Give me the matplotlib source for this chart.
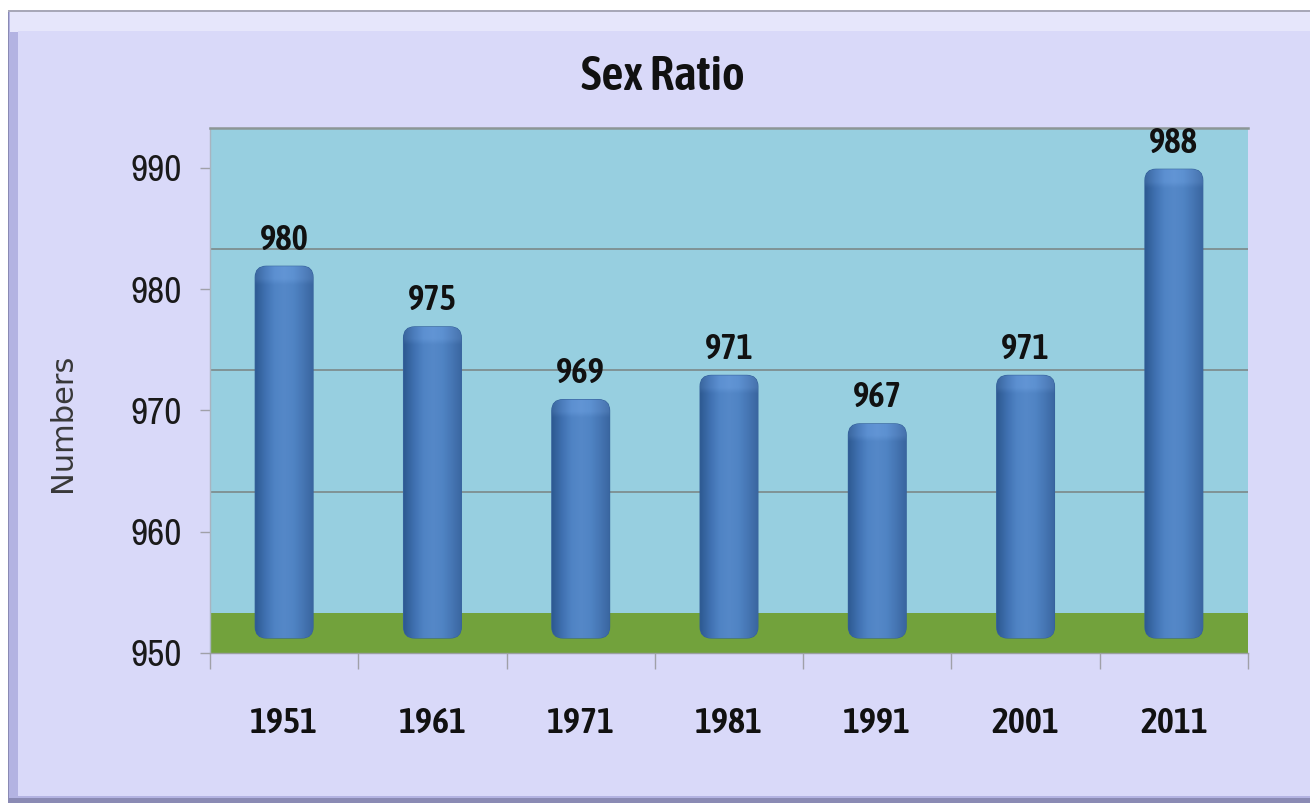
import numpy as np
import matplotlib
matplotlib.use("Agg")
import matplotlib.pyplot as plt
import matplotlib.transforms as mtransforms
import matplotlib.patheffects as pe
from matplotlib import font_manager
from matplotlib.patches import FancyBboxPatch, Rectangle
from matplotlib.colors import LinearSegmentedColormap

# ---------------- data ----------------
years = ["1951", "1961", "1971", "1981", "1991", "2001", "2011"]
sex_ratio = [980, 975, 969, 971, 967, 971, 988]
y_ticks = [950, 960, 970, 980, 990]
title_text = "Sex Ratio"
ylabel_text = "Numbers"

# ---------------- font choice ----------------
ttf = font_manager.fontManager.ttflist


def _w(f):
    wt = f.weight
    if isinstance(wt, str):
        return {"bold": 700, "heavy": 800, "black": 900, "semibold": 600,
                "demibold": 600, "extra bold": 800, "medium": 500}.get(wt.lower(), 400)
    return int(wt)


names = sorted({f.name for f in ttf})
narrow = [n for n in names if ("Narrow" in n or "Condensed" in n)]
narrow_bold = [n for n in narrow if any(f.name == n and _w(f) >= 600 for f in ttf)]
MAIN = narrow[0] if narrow else "Roboto"
BOLD = narrow_bold[0] if narrow_bold else MAIN
REAL_BOLD = bool(narrow_bold) or not narrow
bold_weights = sorted({_w(f) for f in ttf if f.name == BOLD and _w(f) >= 600})
BOLD_WEIGHT = bold_weights[0] if bold_weights else "bold"
FONT = [MAIN, "DejaVu Sans"]
FONT_B = [BOLD, "DejaVu Sans"]


def bold_kw(color="#111111", stroke=1.6):
    if REAL_BOLD:
        return dict(family=FONT_B, fontweight=BOLD_WEIGHT, color=color)
    return dict(family=FONT, color=color,
                path_effects=[pe.withStroke(linewidth=stroke, foreground=color)])


# ---------------- style ----------------
W, H, DPI = 1310, 805, 100
BG = "#D9D9F9"
WALL = "#97CFE0"
FLOOR = "#72A23C"
GRID = "#7E8E90"
WALL_SHIFT_PX = 40      # 3-D depth of back wall
BAR_SHIFT_PX = 23       # 3-D shift of bars
BAR_DROP_PX = 8         # bars sink slightly into floor
BAR_W = 0.39

fig = plt.figure(figsize=(W / DPI, H / DPI), dpi=DPI)
fig.patch.set_facecolor("white")


def frame_rect(x0, y0, x1, y1, **kw):
    r = Rectangle((x0 / W, 1 - y1 / H), (x1 - x0) / W, (y1 - y0) / H,
                  transform=fig.transFigure, zorder=-5, **kw)
    fig.patches.append(r)


# chart frame with bevel
frame_rect(8, 10, W + 2, 803, facecolor="#8A8AB4", edgecolor="none")
frame_rect(9, 11, W + 2, 798, facecolor="#B3B3E2", edgecolor="none")
frame_rect(10, 12, W + 2, 32, facecolor="#E6E6FB", edgecolor="none")
frame_rect(18, 31, W + 2, 796, facecolor=BG, edgecolor="none")
frame_rect(8, 10, W + 2, 12, facecolor="#A8A8B8", edgecolor="none")

# ---------------- axes ----------------
ax_left, ax_right, ax_top, ax_bottom = 210, 1248, 128, 653
ax = fig.add_axes([ax_left / W, 1 - ax_bottom / H,
                   (ax_right - ax_left) / W, (ax_bottom - ax_top) / H])
ax.set_zorder(1)
ax_h_px = ax_bottom - ax_top
k = (ax_h_px - WALL_SHIFT_PX) / (y_ticks[-1] - y_ticks[0])   # px per unit
base = y_ticks[0]
x = np.arange(len(years))
ax.set_facecolor(WALL)

wall_off = mtransforms.ScaledTranslation(0, WALL_SHIFT_PX / DPI, fig.dpi_scale_trans)
bar_off = mtransforms.ScaledTranslation(0, BAR_SHIFT_PX / DPI, fig.dpi_scale_trans)
blend = mtransforms.blended_transform_factory(ax.transAxes, ax.transData)

# back-wall gridlines (shifted for 3-D depth)
for v in y_ticks[1:-1]:
    ax.plot([0, 1], [v, v], color=GRID, lw=1.3, transform=blend + wall_off,
            zorder=1, solid_capstyle="butt")

# floor
ax.add_patch(Rectangle((0, 0), 1, WALL_SHIFT_PX / ax_h_px, transform=ax.transAxes,
                       facecolor=FLOOR, edgecolor="none", zorder=1.5))

# ---------------- bars ----------------
heights = np.array(sex_ratio) - base
rects = ax.bar(x, heights, bottom=base, width=BAR_W)

cmap = LinearSegmentedColormap.from_list(
    "cyl", ["#2E5A92", "#3F70B0", "#4F83C4", "#5588C8", "#5084C4",
            "#4676B4", "#3A66A0"])
bar_trans = ax.transData + bar_off
drop = BAR_DROP_PX / k
px_per_cat = (ax_right - ax_left) / len(years)
for r in rects:
    r.set_visible(False)
    x0, w = r.get_x(), r.get_width()
    y0, h = r.get_y() - drop, r.get_height() + drop
    rs = 0.075
    patch = FancyBboxPatch((x0, y0), w, h,
                           boxstyle=f"round,pad=0,rounding_size={rs}",
                           mutation_aspect=px_per_cat / k,
                           transform=bar_trans, facecolor="#4F81BD",
                           edgecolor="#34609A", lw=0.8, zorder=3)
    ax.add_patch(patch)
    # cylinder shading (soft lighter cap at the top)
    ncol, nrow = 64, 300
    prof = np.linspace(0, 1, ncol)
    img = np.tile(prof, (nrow, 1))
    bar_px = h * k
    rows_px = np.linspace(0, bar_px, nrow)  # distance from top in px
    lighten = 0.05 * np.clip((18 - rows_px) / 6, 0, 1)
    rgba = cmap(img)
    rgba[..., :3] = np.clip(rgba[..., :3] + lighten[:, None, None], 0, 1)
    im = ax.imshow(rgba, extent=[x0, x0 + w, y0, y0 + h], aspect="auto",
                   interpolation="bilinear", zorder=3.5)
    im.set_transform(bar_trans)
    im.set_clip_path(patch)

ax.set_xlim(-0.5, len(years) - 0.5)
ax.set_ylim(base, base + ax_h_px / k)

# data labels
for xi, v in zip(x, sex_ratio):
    ax.annotate(str(v), xy=(xi, v), xytext=(0, 28.5), textcoords="offset points",
                ha="center", va="baseline", fontsize=25, zorder=5,
                **bold_kw(stroke=1.4))

# ---------------- axes decoration ----------------
ax.spines["right"].set_visible(False)
ax.spines["top"].set_color("#8C9696")
ax.spines["top"].set_linewidth(1.8)
ax.spines["left"].set_color("#A8B4C0")
ax.spines["left"].set_linewidth(1.0)
ax.spines["bottom"].set_color("#9AA0A0")
ax.spines["bottom"].set_linewidth(1.0)

ax.set_yticks(y_ticks)
ax.set_yticklabels([str(t) for t in y_ticks], fontsize=27, family=FONT,
                   color="#1A1A1A")
ax.tick_params(axis="y", length=7, width=1, color="#A0A0A8", pad=13)

ax.set_xticks(np.arange(len(years) + 1) - 0.5)
ax.set_xticklabels([])
ax.tick_params(axis="x", which="major", length=11.5, width=1, color="#A0A0A8")
ax.set_xticks(x, minor=True)
xl = ax.set_xticklabels(years, minor=True, fontsize=26)
for t in xl:
    t.update(bold_kw(stroke=1.5))
ax.tick_params(axis="x", which="minor", length=0, pad=38)

# title and axis label
fig.text(663 / W, 1 - 90 / H, title_text, ha="center", va="baseline",
         fontsize=35, **bold_kw(stroke=1.8))
fig.text(62 / W, 1 - 423 / H, ylabel_text, ha="center", va="center",
         rotation=90, fontsize=22, family=["DejaVu Sans"], color="#383838")

fig.savefig("out.png", dpi=DPI, facecolor=fig.get_facecolor())
